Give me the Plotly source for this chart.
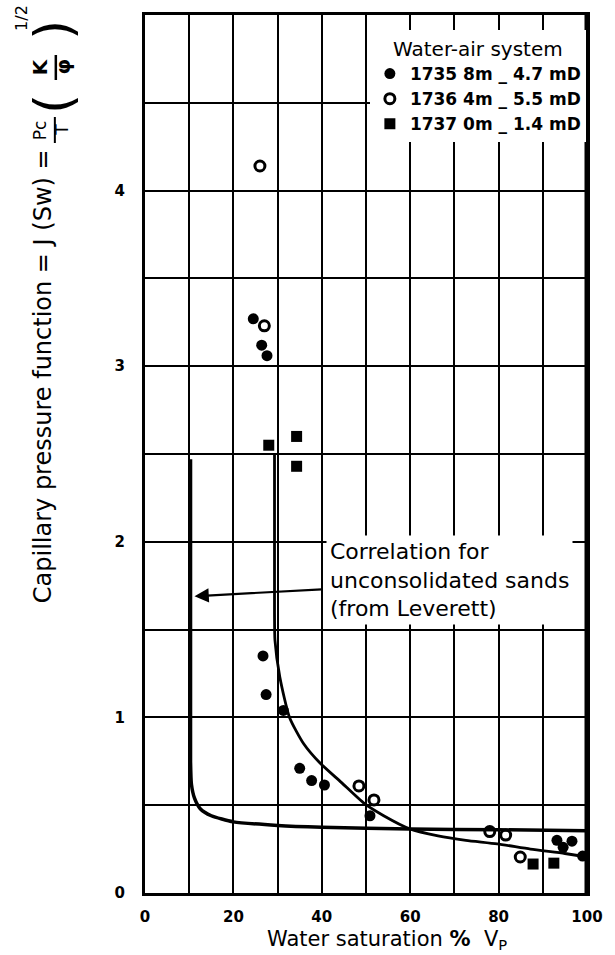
import plotly.graph_objects as go

# Water saturation (% Vp) and J-function readings per core sample
s1735_sw = [24.5, 26.4, 27.6, 26.7, 27.4, 31.3, 35.0, 37.7, 40.6, 50.9, 93.2, 96.6, 94.6, 99.0]
s1735_j = [3.27, 3.12, 3.06, 1.35, 1.13, 1.04, 0.71, 0.64, 0.615, 0.44, 0.30, 0.295, 0.26, 0.21]

s1736_sw = [26.0, 27.0, 48.4, 51.8, 78.0, 81.6, 84.9]
s1736_j = [4.14, 3.23, 0.61, 0.53, 0.35, 0.33, 0.205]

s1737_sw = [28.0, 34.3, 34.3, 87.8, 92.5]
s1737_j = [2.55, 2.60, 2.43, 0.165, 0.17]

# Curve drawn through the measured points
fit_sw = [29.3, 29.3, 29.4, 30.5, 32.7, 35.9, 39.6, 44.4, 49.6, 54.0, 59.9, 66.3, 72.6, 79.7, 87.2, 95.0, 100]
fit_j = [2.50, 1.60, 1.44, 1.23, 1.00, 0.85, 0.74, 0.63, 0.51, 0.44, 0.365, 0.325, 0.30, 0.28, 0.25, 0.225, 0.205]

# Leverett correlation for unconsolidated sands
lev_sw = [10.3, 10.3, 10.5, 11.2, 12.5, 15.0, 20.0, 30.0, 40.0, 60.0, 80.0, 100]
lev_j = [2.47, 0.75, 0.62, 0.54, 0.48, 0.44, 0.405, 0.385, 0.375, 0.365, 0.36, 0.355]

series_names = ["1735 8m _ 4.7 mD", "1736 4m _ 5.5 mD", "1737 0m _ 1.4 mD"]
legend_title = "Water-air system"

x_tick_vals = list(range(0, 101, 10))
x_tick_text = ["0", "", "20", "", "40", "", "60", "", "80", "", "100"]
y_tick_vals = [0, 0.5, 1, 1.5, 2, 2.5, 3, 3.5, 4, 4.5, 5]
y_tick_text = ["0", "", "1", "", "2", "", "3", "", "4", "", ""]

note_text = "Correlation for<br>unconsolidated sands<br>(from Leverett)"
x_title = "Water saturation <b>%</b>  V<sub>P</sub>"
y_title = "Capillary pressure function = J (Sw) ="

W, H = 615, 955
L, R, T, B = 145, 14, 15, 62


def px(x):
    return (x - L) / (W - L - R)


def py(y):
    return (H - B - y) / (H - T - B)


fig = go.Figure()

fig.add_trace(go.Scatter(x=lev_sw, y=lev_j, mode="lines", showlegend=False,
                         line=dict(color="black", width=3.5, shape="spline", smoothing=0.6)))
fig.add_trace(go.Scatter(x=fit_sw, y=fit_j, mode="lines", showlegend=False,
                         line=dict(color="black", width=2.8, shape="spline", smoothing=0.6)))

fig.add_trace(go.Scatter(x=s1735_sw, y=s1735_j, mode="markers", name=series_names[0],
                         marker=dict(symbol="circle", size=11, color="black")))
fig.add_trace(go.Scatter(x=s1736_sw, y=s1736_j, mode="markers", name=series_names[1],
                         marker=dict(symbol="circle-open", size=10, color="black",
                                     line=dict(width=3, color="black"))))
fig.add_trace(go.Scatter(x=s1737_sw, y=s1737_j, mode="markers", name=series_names[2],
                         marker=dict(symbol="square", size=11, color="black")))

tick_font = dict(family="DejaVu Sans", size=15, color="black", weight="bold")

fig.update_xaxes(range=[0, 100], tickvals=x_tick_vals, ticktext=x_tick_text,
                 showgrid=True, gridcolor="black", gridwidth=2, zeroline=False,
                 showline=True, linecolor="black", linewidth=3, mirror=True,
                 ticks="", tickfont=tick_font, ticklabelstandoff=8,
                 ticklabeloverflow="allow")
fig.update_yaxes(range=[0, 5], tickvals=y_tick_vals, ticktext=y_tick_text,
                 showgrid=True, gridcolor="black", gridwidth=2, zeroline=False,
                 showline=True, linecolor="black", linewidth=3, mirror=True,
                 ticks="", tickfont=tick_font, ticklabelstandoff=14)


def rotated(x, y, text, size):
    return dict(x=px(x), y=py(y), xref="paper", yref="paper", xanchor="center", yanchor="middle",
                text=text, textangle=-90, showarrow=False,
                font=dict(family="DejaVu Sans", size=size, color="black"))


annotations = [
    # arrow pointing at the Leverett correlation
    dict(x=11.2, y=1.69, ax=40.3, ay=1.73, xref="x", yref="y", axref="x", ayref="y",
         text="", showarrow=True, arrowhead=2, arrowsize=1.3, arrowwidth=2.2, arrowcolor="black"),
    dict(x=41, y=1.78, xref="x", yref="y", xanchor="left", yanchor="middle", align="left",
         text=note_text, showarrow=False, bgcolor="white", borderpad=3,
         font=dict(family="DejaVu Sans", size=22, color="black")),
    dict(x=px(395), y=py(940), xref="paper", yref="paper", xanchor="center", yanchor="middle",
         text=x_title, showarrow=False, font=dict(family="DejaVu Sans", size=21, color="black")),
    rotated(40, 376, y_title, 24),
    rotated(37, 130, "Pc", 17),
    rotated(59, 130, "T", 17),
    rotated(50, 104, "(", 52),
    rotated(50, 30, ")", 52),
    rotated(37, 67, "<b>K</b>", 20),
    rotated(60, 67, "<b>φ</b>", 20),
    rotated(17, 18, "1/2", 16),
]

shapes = [
    dict(type="line", xref="paper", yref="paper", x0=px(52), x1=px(52), y0=py(117), y1=py(143),
         line=dict(color="black", width=2)),
    dict(type="line", xref="paper", yref="paper", x0=px(53), x1=px(53), y0=py(55), y1=py(80),
         line=dict(color="black", width=2.5)),
    dict(type="line", xref="paper", yref="paper", x0=1, x1=1, y0=0, y1=1,
         line=dict(color="black", width=5)),
]

fig.update_layout(
    width=W, height=H,
    margin=dict(l=L, r=R, t=T, b=B),
    paper_bgcolor="white", plot_bgcolor="white",
    annotations=annotations, shapes=shapes,
    showlegend=True,
    legend=dict(x=px(377), y=py(30), xanchor="left", yanchor="top",
                bgcolor="white", borderwidth=0,
                title=dict(text=legend_title, side="top center",
                           font=dict(family="DejaVu Sans", size=20, color="black", weight="normal")),
                font=dict(family="DejaVu Sans", size=17, color="black", weight="bold")),
)

fig.write_html("out.html")
